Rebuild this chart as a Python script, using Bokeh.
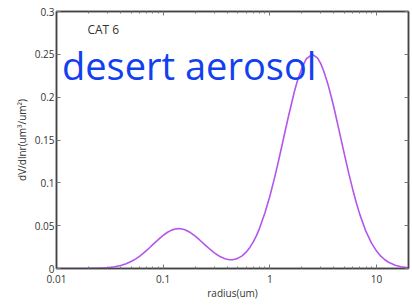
from bokeh.plotting import figure
from bokeh.models import (FixedTicker, LogAxis, LinearAxis, Label, ColumnDataSource, Range1d)
from bokeh.embed import file_html
from bokeh.resources import INLINE

# data
radius = [0.01, 0.015, 0.02, 0.025, 0.03, 0.035, 0.04, 0.045, 0.05, 0.055, 0.06,
          0.065, 0.07, 0.075, 0.08, 0.09, 0.1, 0.11, 0.12, 0.13, 0.14, 0.15,
          0.16, 0.18, 0.2, 0.22, 0.25, 0.28, 0.3, 0.32, 0.35, 0.38, 0.4, 0.42,
          0.45, 0.47, 0.5, 0.55, 0.6, 0.65, 0.7, 0.75, 0.8, 0.9, 1.0, 1.1, 1.2,
          1.3, 1.4, 1.5, 1.7, 1.8, 2.0, 2.2, 2.5, 2.8, 3.0, 3.2, 3.5, 3.8, 4.0,
          4.5, 5.0, 5.5, 6.0, 6.5, 7.0, 8.0, 9.0, 10.0, 11.0, 12.0, 13.0, 15.0,
          17.0, 20.0]
dvdlnr = [0.0, 0.00001, 0.00009, 0.00034, 0.0009, 0.00195, 0.0035, 0.00555,
          0.0081, 0.0110, 0.0142, 0.0176, 0.0211, 0.0245, 0.0278, 0.0337, 0.0386,
          0.0423, 0.0448, 0.0462, 0.0466, 0.0462, 0.0453, 0.0420, 0.0378, 0.0333,
          0.0270, 0.0216, 0.0186, 0.0161, 0.0133, 0.0115, 0.0107, 0.0103, 0.0104,
          0.0108, 0.0118, 0.0148, 0.0191, 0.0246, 0.0310, 0.0384, 0.0466, 0.0647,
          0.0841, 0.104, 0.124, 0.1433, 0.1614, 0.178, 0.2063, 0.2174, 0.234,
          0.2447, 0.250, 0.2458, 0.2394, 0.2309, 0.2158, 0.1990, 0.1876, 0.1595,
          0.1338, 0.1113, 0.0923, 0.0762, 0.0629, 0.0430, 0.0296, 0.0206, 0.0144,
          0.0102, 0.0073, 0.0039, 0.0021, 0.0009]

x_major = [0.01, 0.1, 1, 10]
x_major_labels = ["0.01", "0.1", "1", "10"]
x_minor = [m * d for d in [0.01, 0.1, 1, 10] for m in range(2, 10)]
y_major = [0, 0.05, 0.1, 0.15, 0.2, 0.25, 0.3]
y_major_labels = ["0", "0.05", "0.1", "0.15", "0.2", "0.25", "0.3"]

title_small = "CAT 6"
title_big = "desert aerosol"
x_label = "radius(um)"
y_label = "dV/dlnr(um\u00b3/um\u00b2)"

FONT = "Open Sans"
AX = "#444444"
TXT = "#333333"

p = figure(width=412, height=305, x_axis_type="log",
           x_range=Range1d(0.01, 20), y_range=Range1d(0, 0.3),
           output_backend="svg", toolbar_location=None,
           min_border_left=56, min_border_right=4, min_border_top=11,
           min_border_bottom=37)
p.grid.visible = False
p.outline_line_color = AX
p.outline_line_width = 1.5
p.background_fill_color = "white"
p.border_fill_color = "white"

src = ColumnDataSource(dict(x=radius, y=dvdlnr))
p.line("x", "y", source=src, line_color="#b455ec", line_width=1.6)


def style(ax, labels=True):
    ax.axis_line_color = AX
    ax.axis_line_width = 1.5
    ax.major_tick_in = 4
    ax.major_tick_out = 0
    ax.minor_tick_in = 2
    ax.minor_tick_out = 0
    ax.major_tick_line_color = "#777777"
    ax.minor_tick_line_color = "#777777"
    ax.major_label_text_font = FONT
    ax.major_label_text_color = TXT
    ax.major_label_text_font_size = "10px"
    ax.axis_label_text_font = FONT
    ax.axis_label_text_font_style = "normal"
    ax.axis_label_text_color = TXT
    ax.axis_label_text_font_size = "10px"
    if not labels:
        ax.major_label_text_font_size = "1px"
        ax.major_label_text_alpha = 0
        ax.major_label_standoff = 0


xa = p.xaxis[0]
xa.ticker = FixedTicker(ticks=x_major, minor_ticks=x_minor)
xa.major_label_overrides = {v: s for v, s in zip(x_major, x_major_labels)}
xa.axis_label = x_label
xa.major_label_standoff = 6
xa.axis_label_standoff = 0
style(xa)

ya = p.yaxis[0]
ya.ticker = FixedTicker(ticks=y_major, minor_ticks=[])
ya.major_label_overrides = {v: s for v, s in zip(y_major, y_major_labels)}
ya.axis_label = y_label
ya.major_label_standoff = 2
ya.axis_label_standoff = 3
style(ya)

top = LogAxis(ticker=FixedTicker(ticks=x_major, minor_ticks=x_minor))
style(top, labels=False)
p.add_layout(top, "above")
right = LinearAxis(ticker=FixedTicker(ticks=y_major, minor_ticks=[]))
style(right, labels=False)
p.add_layout(right, "right")

p.add_layout(Label(x=0.0195, y=0.279, text=title_small, text_font=FONT,
                   text_font_size="12px", text_color=TXT,
                   text_baseline="alphabetic"))
p.add_layout(Label(x=0.01126, y=0.238, text=title_big, text_font=FONT,
                   text_font_size="38px", text_color="#1240f0",
                   text_baseline="alphabetic"))

open("out.html", "w").write(file_html(p, INLINE))
